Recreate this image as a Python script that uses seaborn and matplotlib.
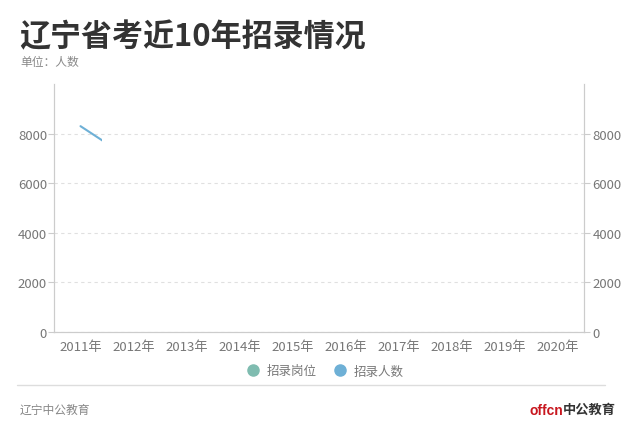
import numpy as np
import pandas as pd
import matplotlib
matplotlib.use("Agg")
import matplotlib.pyplot as plt
from matplotlib.lines import Line2D
from matplotlib.patches import Rectangle
import seaborn as sns

# data
years = ["2011年", "2012年", "2013年", "2014年", "2015年",
         "2016年", "2017年", "2018年", "2019年", "2020年"]
renshu_years = ["2011年", "2012年"]
renshu = [8300, 6900]          # 招录人数 (only the first step is drawn in this frame)
yticks = [0, 2000, 4000, 6000, 8000]
series_names = ["招录岗位", "招录人数"]
series_colors = ["#7fbcb0", "#6eb0d6"]
reveal_x = 0.4                 # animation frame: line revealed up to here

sns.set_theme(style="white")
plt.rcParams["font.family"] = ["Noto Sans CJK SC", "DejaVu Sans"]

fig = plt.figure(figsize=(6.4, 4.35), dpi=100)
ax = fig.add_axes([54 / 640, 1 - 333 / 435, 530 / 640, 248 / 435])

df = pd.DataFrame({"year": renshu_years, "value": renshu})
df["pos"] = [years.index(y) for y in df["year"]]
sns.lineplot(data=df, x="pos", y="value", ax=ax, color=series_colors[1],
             linewidth=1.5, legend=False)
clip = Rectangle((-0.5, 0), reveal_x + 0.5, 10000, transform=ax.transData)
for ln in ax.lines:
    ln.set_clip_path(clip)

ax.set_xlim(-0.5, len(years) - 0.5)
ax.set_ylim(0, 10000)
ax.set_xticks(range(len(years)))
ax.set_xticklabels(years)
ax.set_yticks(yticks)
ax.set_xlabel("")
ax.set_ylabel("")
ax.yaxis.grid(True, color="#e0e0e0", linestyle=(0, (3, 3)), linewidth=0.8)
ax.xaxis.grid(False)

ax2 = ax.twinx()
ax2.set_ylim(0, 10000)
ax2.set_yticks(yticks)

for a in (ax, ax2):
    a.spines["top"].set_visible(False)
    for s in ["left", "right", "bottom"]:
        a.spines[s].set_color("#cccccc")
        a.spines[s].set_linewidth(0.8)
    a.tick_params(labelcolor="#777777", labelsize=9.5, length=4, width=0.8,
                  color="#cccccc")
ax.tick_params(axis="x", pad=2)
ax.tick_params(axis="y", left=True, pad=1)
ax2.tick_params(axis="y", right=True, pad=2)

fig.text(19 / 640, 1 - 37 / 435, "辽宁省考近10年招录情况", fontsize=22.3,
         fontweight="bold", color="#333333", va="center")
fig.text(20 / 640, 1 - 62 / 435, "单位：人数", fontsize=8.5,
         color="#888888", va="center")

handles = [Line2D([], [], marker="o", linestyle="", markersize=8,
                  markerfacecolor=c, markeredgecolor=c) for c in series_colors]
fig.legend(handles, series_names, loc="center", ncol=2,
           bbox_to_anchor=(0.503, 1 - 372 / 435), frameon=False,
           fontsize=9, labelcolor="#777777", handletextpad=0.1,
           columnspacing=0.9)

fig.add_artist(Line2D([17 / 640, 605 / 640], [1 - 386 / 435] * 2,
                      color="#dddddd", linewidth=1))
fig.text(20 / 640, 1 - 410 / 435, "辽宁中公教育", fontsize=8.5,
         color="#888888", va="center")
fig.text(530 / 640, 1 - 411 / 435, "offcn", fontsize=10, color="#c8161e",
         fontweight="bold", va="center", family="Liberation Sans")
fig.text(563 / 640, 1 - 410 / 435, "中公教育", fontsize=9.5, color="#333333",
         fontweight="bold", va="center")

fig.savefig("out.png", dpi=100)
